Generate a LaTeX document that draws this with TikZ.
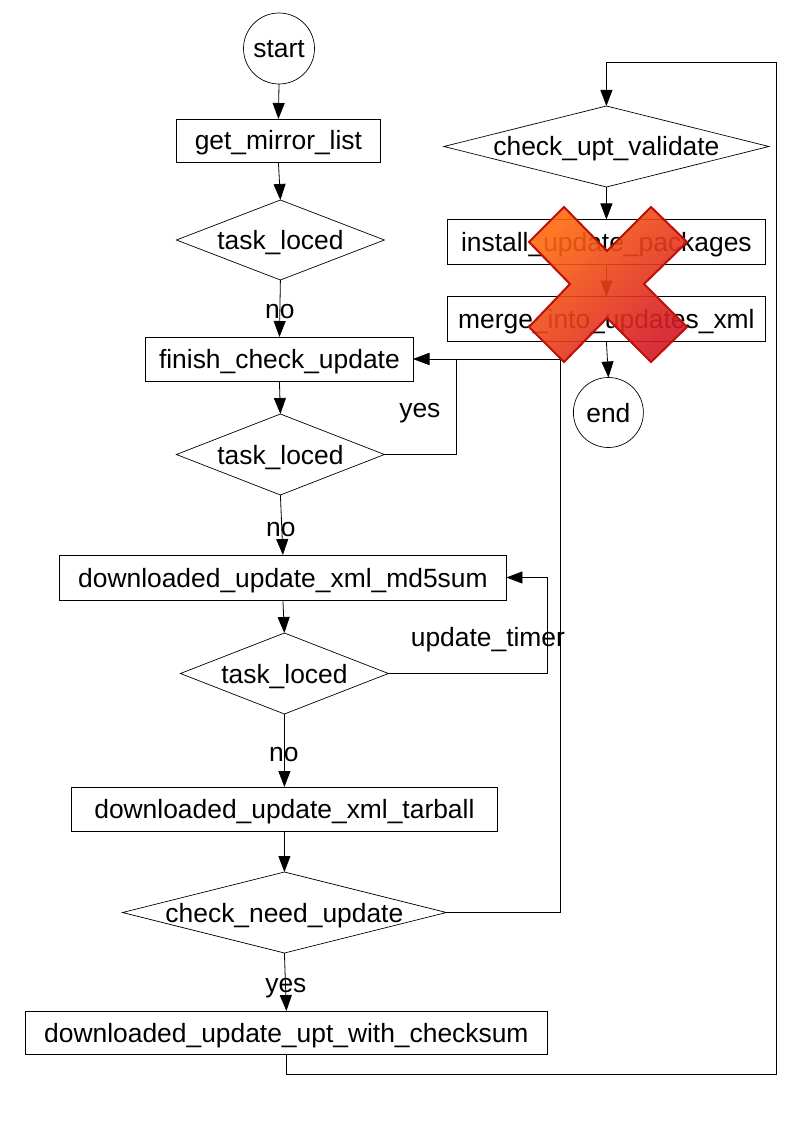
\documentclass[tikz,border=0pt]{standalone}
\usepackage{fontspec}
\setmainfont{Liberation Sans}
\usetikzlibrary{shapes.geometric,arrows.meta}
\tikzset{
  base/.style={draw=black,line width=0.7pt,inner sep=0pt,outer sep=0pt,text height=19pt,text depth=0pt,font=\fontsize{26.4}{30}\selectfont,text=black},
  proc/.style={base,rectangle},
  term/.style={base,circle},
  decide/.style={base,diamond,shape aspect=2.6},
  widedecide/.style={base,diamond,shape aspect=4.2},
  lab/.style={inner sep=0pt,text height=19pt,text depth=0pt,font=\fontsize{26.4}{30}\selectfont},
  flow/.style={draw=black,line width=0.8pt,-{Triangle[length=16pt,width=12pt]}},
}
\begin{document}
\begin{tikzpicture}[x=1pt,y=-1pt]
\useasboundingbox (0,0) rectangle (794,1123);
\begin{scope}[xshift=-0.6pt]
\node[term,minimum size=71pt] (start) at (279.6,48.5) {start};
\node[proc,minimum width=204pt,minimum height=43pt] (mirror) at (279,140.5) {get\_mirror\_list};
\node[decide,minimum width=208pt,minimum height=80pt] (lock1) at (281,240) {task\_loced};
\node[proc,minimum width=268pt,minimum height=44pt] (finish) at (280,359) {finish\_check\_update};
\node[decide,minimum width=208pt,minimum height=81pt] (lock2) at (281,454.5) {task\_loced};
\node[proc,minimum width=447pt,minimum height=45pt] (md5) at (283.5,577.5) {downloaded\_update\_xml\_md5sum};
\node[decide,minimum width=208pt,minimum height=81pt] (lock3) at (285,673.5) {task\_loced};
\node[proc,minimum width=426pt,minimum height=44pt] (tarball) at (285,809) {downloaded\_update\_xml\_tarball};
\node[widedecide,minimum width=324pt,minimum height=81pt] (need) at (285,912.5) {check\_need\_update};
\node[proc,minimum width=522pt,minimum height=43pt] (upt) at (287,1032.5) {downloaded\_update\_upt\_with\_checksum};
\node[widedecide,minimum width=325pt,minimum height=81pt] (valid) at (607,146.5) {check\_upt\_validate};
\node[proc,minimum width=318pt,minimum height=45pt] (install) at (607,242) {install\_update\_packages};
\node[proc,minimum width=318pt,minimum height=45pt] (merge) at (607,319) {merge\_into\_updates\_xml};
\node[term,minimum size=70pt] (end) at (609,412.5) {end};

\coordinate (c1) at (457,454.5);
\coordinate (c2) at (457,359);
\coordinate (c3) at (561,912.5);
\coordinate (c4) at (561,359);
\coordinate (c5) at (548,673.5);
\coordinate (c6) at (548,577.5);
\coordinate (c7) at (287,1074);
\coordinate (c8) at (777,1074);
\coordinate (c9) at (777,62);
\coordinate (c10) at (607,62);

\draw[flow] (start.south) -- (mirror.north);
\draw[flow] (mirror.south) -- (lock1.north);
\draw[flow] (lock1.south) -- (finish.north);
\draw[flow] (finish.south) -- (lock2.north);
\draw[flow] (lock2.south) -- (md5.north);
\draw[flow] (md5.south) -- (lock3.north);
\draw[flow] (lock3.south) -- (tarball.north);
\draw[flow] (tarball.south) -- (need.north);
\draw[flow] (need.south) -- (upt.north);
\draw[flow] (lock2.east) -- (c1) -- (c2) -- (finish.east);
\draw[flow] (need.east) -- (c3) -- (c4) -- (finish.east);
\draw[flow] (lock3.east) -- (c5) -- (c6) -- (md5.east);
\draw[flow] (upt.south) -- (c7) -- (c8) -- (c9) -- (c10) -- (valid.north);
\draw[flow] (valid.south) -- (install.north);
\draw[flow] (install.south) -- (merge.north);
\draw[flow] (merge.south) -- (end.north);

\node[lab] (l1) at (280.5,309) {no};
\node[lab] (l2) at (420.5,408) {yes};
\node[lab] (l3) at (281.5,527) {no};
\node[lab] (l4) at (488.5,637) {update\_timer};
\node[lab] (l5) at (284.5,752) {no};
\node[lab] (l6) at (286.5,983) {yes};
\end{scope}

\path[draw={rgb,255:red,190;green,15;blue,10},line width=2pt,line join=miter,
  fill opacity=0.9,
  left color={rgb,255:red,255;green,105;blue,15},right color={rgb,255:red,212;green,25;blue,38},shading angle=45]
  (564,207) -- (607,251) -- (651,207) -- (687,242) -- (644,284) -- (687,327)
  -- (651,362) -- (607,318) -- (564,362) -- (529,327) -- (570,284) -- (529,242) -- cycle;
\end{tikzpicture}
\end{document}
